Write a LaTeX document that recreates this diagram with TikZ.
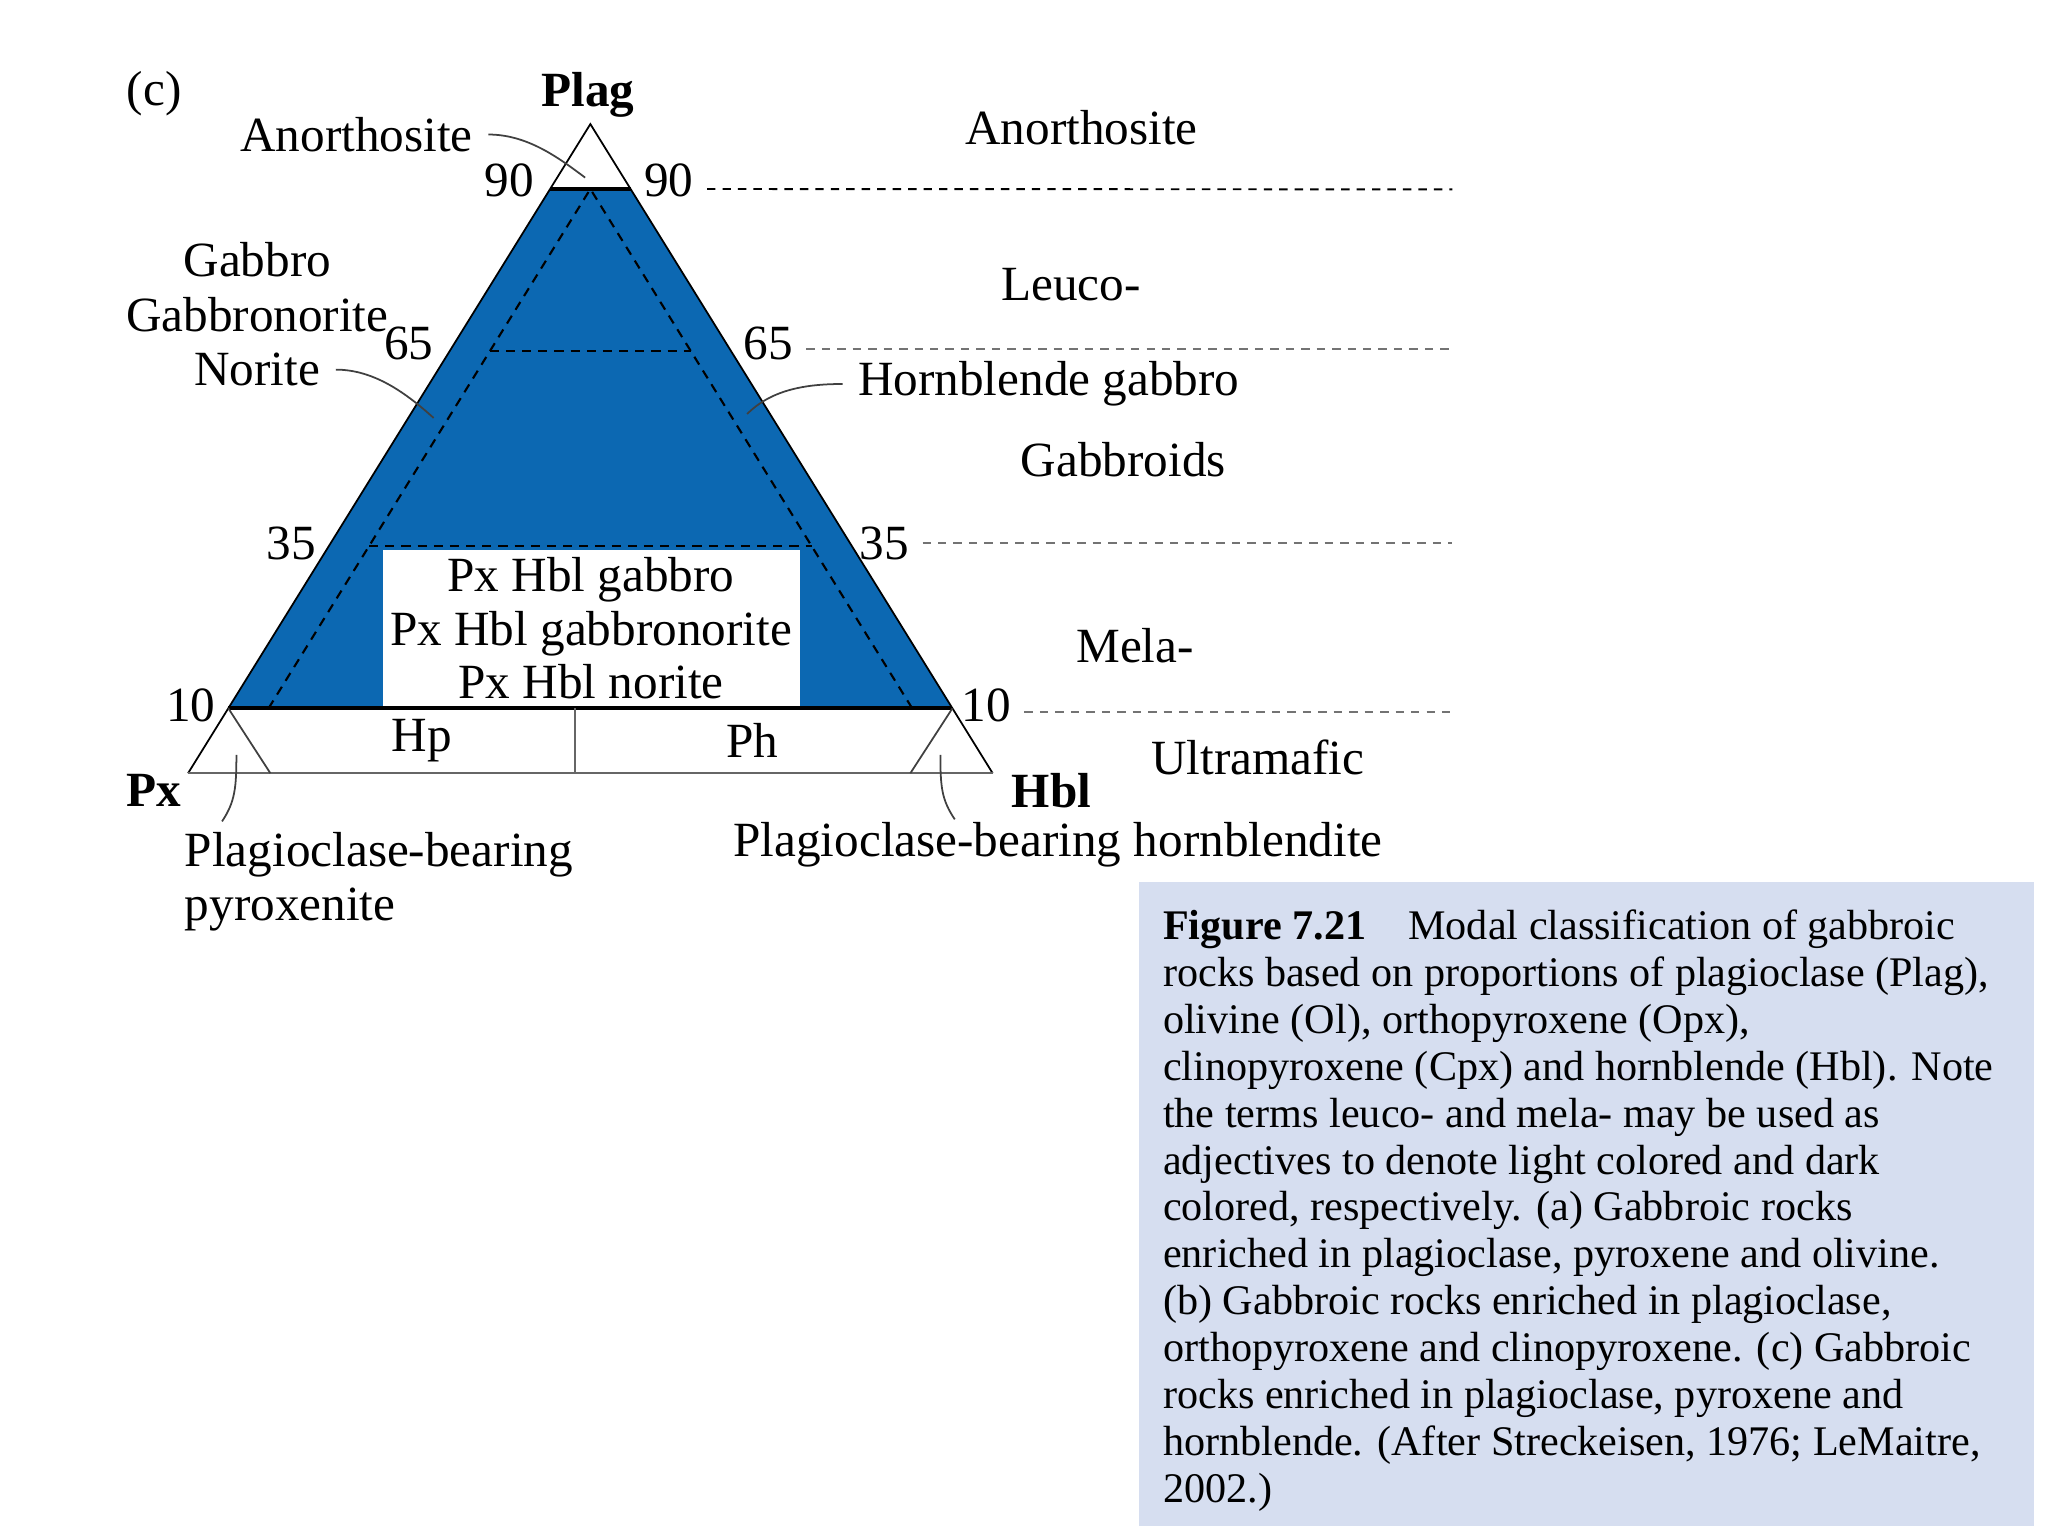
\documentclass[tikz,border=0pt]{standalone}
\usepackage{fontspec}
\setmainfont{Liberation Serif}
\usepackage{tikz}
\usetikzlibrary{positioning, calc}

\definecolor{gabblue}{RGB}{12,104,178}
\definecolor{capbg}{RGB}{214,222,240}

\begin{document}
\begin{tikzpicture}[
  x=0.13061mm, y=-0.13061mm,
  lbl/.style={font=\fontsize{14}{15.2}\selectfont, inner sep=0pt},
  corner/.style={lbl, font=\fontsize{14}{15.2}\selectfont\bfseries},
  side/.style={line width=0.5pt},
  rim/.style={line width=1.1pt},
  level/.style={dash pattern=on 2.4pt off 2pt, line width=0.55pt},
  inner/.style={dash pattern=on 2.6pt off 2pt, line width=0.6pt},
  leader/.style={line width=0.5pt, draw=black!75},
]
\useasboundingbox (0,0) rectangle (1568,1176);

% ternary corners
\coordinate (plag) at (452,95);
\coordinate (px) at (144,592);
\coordinate (hbl) at (760,592);

% 90 and 10 per cent plag
\coordinate (l90) at ($(px)!0.9!(plag)$);
\coordinate (r90) at ($(hbl)!0.9!(plag)$);
\coordinate (l10) at ($(px)!0.1!(plag)$);
\coordinate (r10) at ($(hbl)!0.1!(plag)$);

\fill[gabblue] (l10) -- (l90) -- (r90) -- (r10) -- cycle;

% inner dashed triangle
\coordinate (ia) at ($(l90)!0.5!(r90)$);
\coordinate (ibl) at ($(l10)+(ia)-(l90)$);
\coordinate (ibr) at ($(r10)+(ia)-(r90)$);
\draw[inner] (ibl) -- (ia) -- (ibr);
\draw[inner] ($(ibl)!0.6875!(ia)$) -- ($(ibr)!0.6875!(ia)$);
\draw[inner] ($(ibl)!0.3125!(ia)$) -- ($(ibr)!0.3125!(ia)$);

\node[lbl, fill=white, minimum width=41.7mm, minimum height=15.7mm, align=center] (mix) at (452.5,481)
  {Px Hbl gabbro\\Px Hbl gabbronorite\\Px Hbl norite};

% outline
\draw[side] (px) -- (plag) -- (hbl);
\draw[side, draw=black!60] (px) -- (hbl);
\draw[rim] (l90) -- (r90);
\draw[rim] (l10) -- (r10);
\coordinate (pxin) at ($(px)+(63,0)$);
\coordinate (hblin) at ($(hbl)-(63,0)$);
\draw[side, draw=black!75] (l10) -- (pxin);
\draw[side, draw=black!75] (r10) -- (hblin);
\coordinate (hpph) at ($(px)!0.4805!(hbl)$);
\draw[side, draw=black!60] (hpph) -- (hpph |- l10);

% corner labels
\node[lbl] (panel) at (118,72) {(c)};
\node[corner] (plagt) at (450,73) {Plag};
\node[corner] (pxt) at (118,605) {Px};
\node[corner] (hblt) at (805,605) {Hbl};

% percentages
\node[lbl] (n90l) at (390,138) {90};
\node[lbl] (n90r) at (512,138) {90};
\node[lbl] (n65l) at (313,263) {65};
\node[lbl] (n65r) at (588,263) {65};
\node[lbl] (n35l) at (223,416) {35};
\node[lbl] (n35r) at (677,416) {35};
\node[lbl] (n10l) at (146,540) {10};
\node[lbl] (n10r) at (755,540) {10};

% levels to the right
\coordinate (end90) at (1112,145);
\coordinate (end65) at (1112,267);
\coordinate (end35) at (1112,416);
\coordinate (end10) at (1112,545);
\draw[level, shorten <=1.3mm] (n90r.east |- r90) -- (end90);
\draw[level, black!55, shorten <=1.3mm] (n65r.east |- end65) -- (end65);
\draw[level, black!55, shorten <=1.3mm] (n35r.east |- end35) -- (end35);
\draw[level, black!55, shorten <=1.3mm] (n10r.east |- end10) -- (end10);

\node[lbl] (anor) at (828,98) {Anorthosite};
\node[lbl] (leuco) at (820,218) {Leuco-};
\node[lbl] (gbd) at (860,352) {Gabbroids};
\node[lbl] (mela) at (869,494) {Mela-};
\node[lbl] (umaf) at (963,580) {Ultramafic};
\node[lbl] (hp) at (323,567) {Hp};
\node[lbl] (ph) at (576,567) {Ph};

% named fields with leaders
\node[lbl] (anol) at (273,103) {Anorthosite};
\node[lbl] (gab) at (197,199) {Gabbro};
\node[lbl] (gabn) at (197,241) {Gabbronorite};
\node[lbl] (nor) at (197,283) {Norite};
\node[lbl] (hgab) at (803,294) {Hornblende gabbro};
\node[lbl, anchor=west, align=left] (pbp) at (141,675) {Plagioclase-bearing\\pyroxenite};
\node[lbl] (pbh) at (810,647) {Plagioclase-bearing hornblendite};

\coordinate (anotip) at (448,136);
\coordinate (nortip) at (332,320);
\coordinate (hgtip) at (572,317);
\coordinate (pxtip) at (181,578);
\coordinate (hbltip) at (720,578);
\draw[leader] ([xshift=1.5mm]anol.east) .. controls +(30,0) and +(-20,-15) .. (anotip);
\draw[leader] ([xshift=1.5mm]nor.east) .. controls +(30,0) and +(-20,-18) .. (nortip);
\draw[leader] ([xshift=-1.5mm]hgab.west) .. controls +(-30,0) and +(18,-18) .. (hgtip);
\draw[leader] ($(pbp.north west)+(29,-8)$) .. controls +(10,-15) and +(0,25) .. (pxtip);
\draw[leader] ($(pbh.north)+(-79,-2)$) .. controls +(-10,-15) and +(0,25) .. (hbltip);

% caption
\fill[capbg] (872,675) rectangle (1557,1168);
\node[anchor=north west, inner sep=0pt, align=left, font=\fontsize{12}{13.35}\selectfont] (cap) at (890,696)
  {\textbf{Figure 7.21}\quad Modal classification of gabbroic\\
   rocks based on proportions of plagioclase (Plag),\\
   olivine (Ol), orthopyroxene (Opx),\\
   clinopyroxene (Cpx) and hornblende (Hbl). Note\\
   the terms leuco- and mela- may be used as\\
   adjectives to denote light colored and dark\\
   colored, respectively. (a) Gabbroic rocks\\
   enriched in plagioclase, pyroxene and olivine.\\
   (b) Gabbroic rocks enriched in plagioclase,\\
   orthopyroxene and clinopyroxene. (c) Gabbroic\\
   rocks enriched in plagioclase, pyroxene and\\
   hornblende. (After Streckeisen, 1976; LeMaitre,\\
   2002.)};
\end{tikzpicture}
\end{document}
